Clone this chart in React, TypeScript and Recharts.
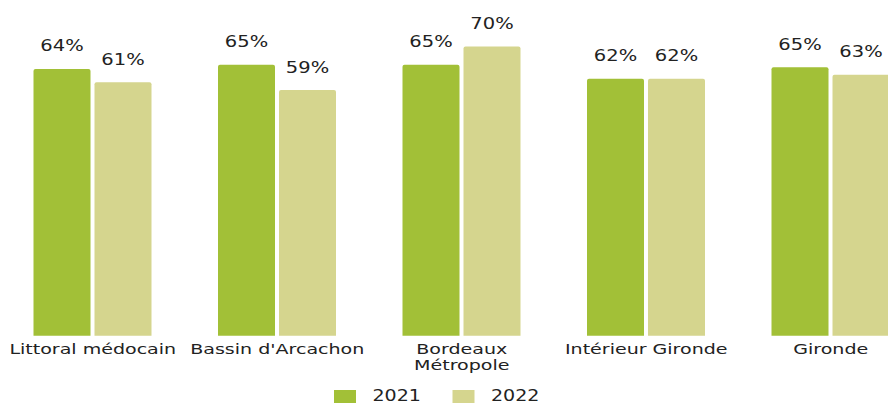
import React from 'react';
import { BarChart, Bar, XAxis, YAxis, Legend, LabelList } from 'recharts';

// categories + values
const categories = [
  'Littoral médocain',
  "Bassin d'Arcachon",
  'Bordeaux Métropole',
  'Intérieur Gironde',
  'Gironde',
];
const values2021 = [64.4, 65.4, 65.4, 62.0, 64.8];
const values2022 = [61.2, 59.3, 69.8, 62.0, 63.0];
const seriesNames = ['2021', '2022'];

const COLORS = ['#A2C037', '#D5D58E'];
const FONT = '"DejaVu Sans", Verdana, sans-serif';
const TEXT = '#222222';

const data = categories.map((name, i) => ({
  name,
  v2021: values2021[i],
  v2022: values2022[i],
}));

// % label above each bar (the original looks horizontally stretched)
const ValueLabel = (props: any) => {
  const { x, y, width, value } = props;
  const cx = x + width / 2;
  const by = y - 17.5;
  return (
    <text
      transform={`translate(${cx},${by}) scale(1.3,1)`}
      textAnchor="middle"
      fontFamily={FONT}
      fontSize={15}
      fill={TEXT}
    >
      {`${Math.round(value)}%`}
    </text>
  );
};

// category tick, splits Bordeaux Métropole on two lines
const CategoryTick = (props: any) => {
  const { x, y, payload } = props;
  const label: string = payload.value;
  const twoLines = label === 'Bordeaux Métropole';
  const lines = twoLines ? ['Bordeaux', 'Métropole'] : [label];
  const firstY = y + (twoLines ? 17.8 : 18.6);
  return (
    <g>
      {lines.map((line, i) => (
        <text
          key={i}
          transform={`translate(${x},${firstY + i * 16.5}) scale(1.36,1)`}
          textAnchor="middle"
          fontFamily={FONT}
          fontSize={14}
          fill={TEXT}
        >
          {line}
        </text>
      ))}
    </g>
  );
};

const ChartLegend = () => {
  const items = [
    { sq: 333, tx: 371.5 },
    { sq: 451.5, tx: 490 },
  ];
  return (
    <svg width={923} height={15} style={{ display: 'block' }}>
      {items.map((it, i) => (
        <g key={i}>
          <rect x={it.sq} y={2} width={22} height={13} fill={COLORS[i]} />
          <text
            transform={`translate(${it.tx},13) scale(1.27,1)`}
            fontFamily={FONT}
            fontSize={15}
            fill={TEXT}
          >
            {seriesNames[i]}
          </text>
        </g>
      ))}
    </svg>
  );
};

export default function App() {
  return (
    <div
      style={{
        position: 'absolute',
        left: 0,
        top: 0,
        width: 888,
        height: 403,
        overflow: 'hidden',
        background: '#fff',
      }}
    >
      <BarChart
        width={923}
        height={403}
        data={data}
        margin={{ top: 45.7, right: 0, bottom: 0, left: 0.5 }}
        barSize={57}
        barGap={4}
      >
        <XAxis
          dataKey="name"
          axisLine={false}
          tickLine={false}
          tickSize={0}
          tickMargin={0}
          height={52.3}
          interval={0}
          tick={<CategoryTick />}
        />
        <YAxis hide domain={[0, 70]} />
        <Legend
          verticalAlign="bottom"
          content={<ChartLegend />}
          wrapperStyle={{ height: 15, lineHeight: 0 }}
        />
        <Bar dataKey="v2021" name="2021" fill={COLORS[0]} radius={[2, 2, 0, 0]} isAnimationActive={false}>
          <LabelList dataKey="v2021" content={<ValueLabel />} />
        </Bar>
        <Bar dataKey="v2022" name="2022" fill={COLORS[1]} radius={[2, 2, 0, 0]} isAnimationActive={false}>
          <LabelList dataKey="v2022" content={<ValueLabel />} />
        </Bar>
      </BarChart>
    </div>
  );
}
